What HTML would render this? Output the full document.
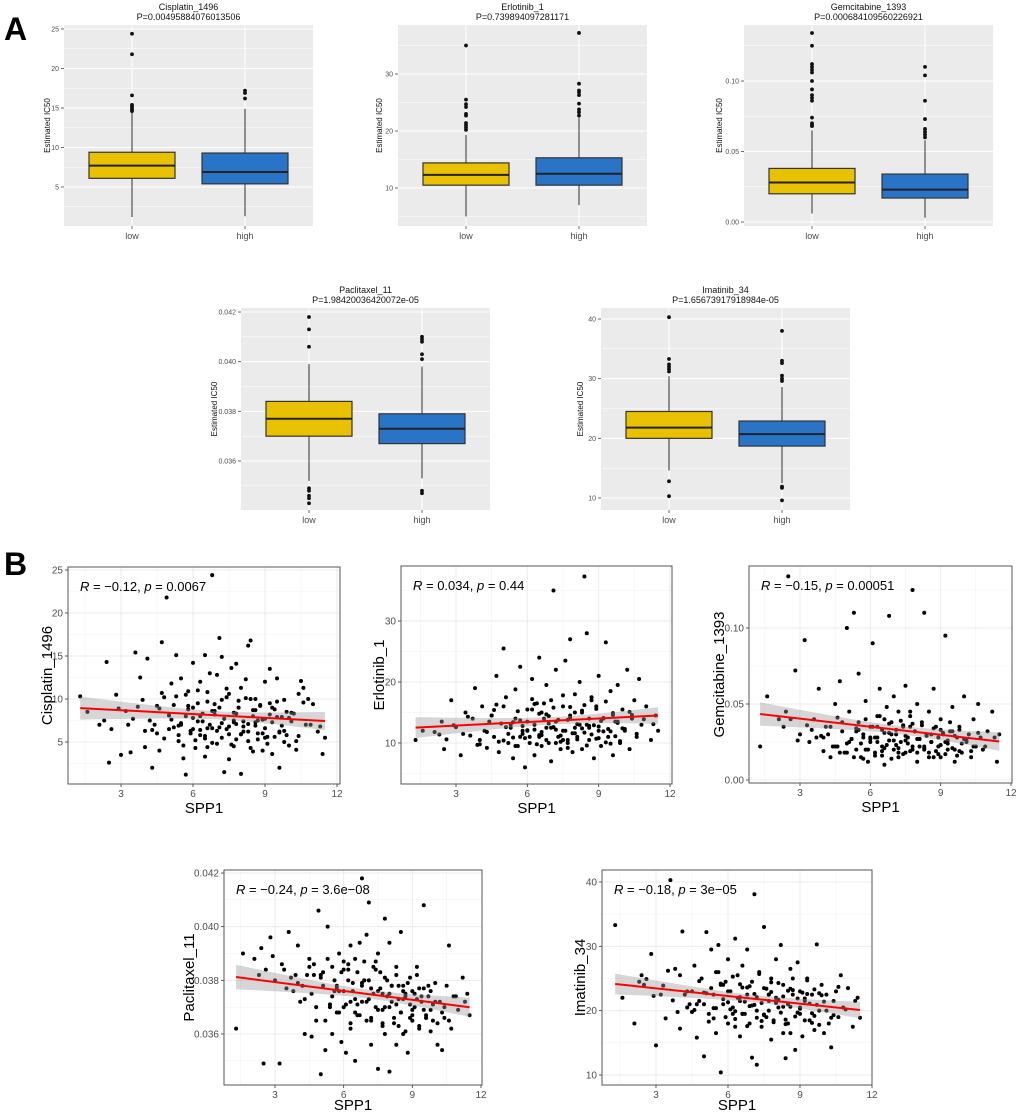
<!DOCTYPE html>
<html><head><meta charset="utf-8">
<style>
html,body{margin:0;padding:0;background:#fff;}
svg{display:block;font-family:"Liberation Sans",Arial,sans-serif;}
</style></head>
<body>
<svg id="fig" width="1020" height="1114" viewBox="0 0 1020 1114" xmlns="http://www.w3.org/2000/svg">
<text x="4" y="40" font-size="32" font-weight="bold">A</text>
<text x="4" y="575" font-size="32" font-weight="bold">B</text>
</svg>
<script>
// ---------- Box plot data: [q1, median, q3, whiskerLow, whiskerHigh] ----------
const groups = ["low","high"];
const cisLow = [6.1,7.7,9.4,1.2,14.5];
const cisHigh = [5.4,6.9,9.3,1.3,14.9];
const cisLowOut = [14.6,14.8,15.0,15.2,15.4,16.6,21.8,24.4];
const cisHighOut = [16.2,16.9,17.2];
const erlLow = [10.5,12.3,14.4,5.0,19.3];
const erlHigh = [10.5,12.5,15.3,7.0,22.3];
const erlLowOut = [20.2,20.6,21.0,21.4,22.7,23.0,24.2,24.7,25.5,35.0];
const erlHighOut = [22.7,23.3,23.8,24.8,26.3,26.8,27.1,28.3,37.2];
const gemLow = [0.020,0.028,0.038,0.006,0.065];
const gemHigh = [0.017,0.023,0.034,0.003,0.058];
const gemLowOut = [0.068,0.069,0.070,0.074,0.086,0.088,0.090,0.094,0.100,0.106,0.108,0.110,0.112,0.125,0.134];
const gemHighOut = [0.060,0.062,0.064,0.066,0.073,0.086,0.104,0.110];
const pacLow = [0.0370,0.0377,0.0384,0.0352,0.0399];
const pacHigh = [0.0367,0.0373,0.0379,0.0353,0.0398];
const pacLowOut = [0.0343,0.0345,0.0346,0.0348,0.0349,0.0406,0.0413,0.0418];
const pacHighOut = [0.0347,0.0348,0.0401,0.0403,0.0408,0.0409,0.0410];
const imaLow = [20.0,21.8,24.5,14.6,30.4];
const imaHigh = [18.7,20.7,22.9,12.5,28.6];
const imaLowOut = [10.3,12.8,31.2,31.6,32.0,32.4,33.3,40.3];
const imaHighOut = [9.6,11.7,11.9,29.6,30.0,30.5,32.6,33.0,38.0];

const cisTicks = [5,10,15,20,25];
const erlTicks = [10,20,30];
const gemTicks = [0.00,0.05,0.10];
const pacTicks = [0.036,0.038,0.040,0.042];
const imaTicks = [10,20,30,40];
const sppTicks = [3,6,9,12];

// ---------- Scatter data (shared SPP1 expression, drug IC50s) ----------
const spp1a = [1.3,1.6,2.1,2.4,2.5,2.8,3.0,3.2,3.4,3.6,
3.8,4.0,4.1,4.3,4.5,4.6,4.7,4.8,4.9,5.0,
5.1,5.2,5.3,5.4,5.5,5.5,5.6,5.7,5.8,5.9,
6.0,6.0,6.1,6.2,6.3,6.3,6.4,6.5,6.5,6.6,
6.7,6.8,6.8,6.9,7.0,7.0,7.1,7.2,7.2,7.3,
7.4,7.5,7.5,7.6,7.7,7.8,7.8,7.9,8.0,8.0,
8.1,8.2,8.3,8.3,8.4,8.5,8.5,8.6,8.7,8.8,
8.9,9.0,9.0,9.1,9.2,9.3,9.4,9.5,9.6,9.7,
9.8,9.9,10.0,10.1,10.2,10.3,10.4,10.5,10.6,10.7,
10.8,11.0,11.2,11.4,11.5,4.4,5.7,6.6,7.7,8.6];
const spp1b = [4.2,4.5,4.8,5.0,5.2,5.3,5.5,5.6,5.8,5.9,
6.0,6.1,6.2,6.3,6.4,6.5,6.6,6.7,6.8,6.9,
7.0,7.1,7.2,7.3,7.4,7.5,7.6,7.7,7.8,7.9,
8.0,8.1,8.2,8.3,8.4,8.5,8.6,8.7,8.8,8.9,
9.0,9.1,9.2,9.3,9.4,9.5,9.6,9.7,9.8,9.9,
3.3,3.7,4.0,4.6,5.1,5.4,5.7,6.0,6.3,6.6,
6.9,7.2,7.5,7.8,8.1,8.4,8.7,9.0,9.3,9.6,
10.0,10.3,10.6,10.9,2.6,2.9,3.5,3.9,4.3,4.7,
5.0,5.4,5.8,6.2,6.5,6.8,7.1,7.4,7.7,8.0,
8.3,8.6,8.9,9.2,9.5,9.8,10.1,10.4,2.3,11.3];
const cisYa = [10.3,8.5,7.0,14.3,2.6,10.5,3.5,8.6,3.8,15.4,
12.5,4.4,14.7,2.0,6.0,4.0,16.6,10.2,21.8,6.5,
11.8,9.3,15.1,5.1,12.4,7.0,3.1,1.2,10.9,6.3,
14.2,9.0,4.3,11.0,5.8,12.0,7.4,15.1,3.3,9.7,
13.0,24.4,6.6,8.2,12.8,4.8,17.1,9.9,14.9,1.5,
6.5,10.6,3.0,13.6,7.5,14.1,5.3,9.0,1.3,11.3,
6.2,12.3,16.2,5.1,16.8,8.7,3.9,10.0,6.0,9.2,
4.0,7.7,12.0,5.6,13.5,3.6,8.8,12.4,2.0,6.9,
9.9,5.8,4.6,7.4,8.3,4.1,10.6,12.1,11.3,7.0,
10.0,9.4,6.2,3.6,5.5,7.0,8.0,6.6,4.5,7.3];
const cisYb = [7.5,9.2,5.4,8.1,6.7,10.3,7.2,4.6,8.8,6.0,
7.8,5.2,9.5,6.4,8.3,5.7,10.8,7.0,4.9,8.6,
6.3,9.0,5.5,7.7,11.2,6.8,4.7,8.4,7.1,9.8,
5.9,7.4,10.1,6.2,4.3,8.0,6.9,5.3,9.3,7.6,
6.6,4.8,8.2,7.3,5.6,9.7,6.1,7.9,5.0,8.5,
7.0,9.1,6.3,8.9,7.6,5.8,10.5,6.5,8.0,4.4,
9.4,7.2,5.9,8.3,6.8,10.0,7.5,5.5,9.0,6.2,
7.8,5.1,9.6,7.0,6.5,8.9,7.7,9.9,6.4,10.7,
8.1,6.9,9.2,7.4,5.4,8.6,6.7,10.2,7.3,5.9,
7.1,8.7,6.0,9.5,7.9,6.3,8.4,5.7,7.5,6.8];
const erlYa = [10.5,12.0,11.8,13.5,9.0,17.0,12.6,8.0,15.0,11.2,
19.0,10.5,16.0,9.2,14.5,11.0,21.0,8.5,13.2,25.5,
17.5,10.0,12.5,7.5,18.8,14.0,9.5,22.5,11.5,6.0,
15.5,12.0,10.0,20.5,8.0,13.0,16.5,11.0,24.0,9.5,
14.0,12.5,19.5,10.0,17.0,7.0,35.0,13.5,22.0,11.0,
9.0,16.0,12.0,23.5,10.5,27.0,14.5,8.5,18.0,12.5,
11.0,20.0,15.0,9.0,37.3,13.0,28.0,10.5,17.5,7.5,
16.0,12.0,21.0,9.5,14.0,26.5,11.0,18.5,8.0,13.5,
19.5,10.0,15.5,12.0,22.0,9.0,14.0,17.0,11.5,20.5,
13.0,16.0,10.5,14.5,12.0,13.5,11.0,15.0,10.0,12.5];
const erlYb = [12.0,14.5,10.2,16.0,11.5,13.0,9.5,15.2,12.8,10.8,
13.5,11.0,17.2,12.2,9.8,14.8,11.8,16.5,10.5,13.2,
12.5,15.8,10.0,13.8,11.2,17.8,12.0,9.2,14.2,11.6,
15.0,10.6,13.0,12.4,16.2,9.6,14.0,11.4,12.9,15.6,
10.8,13.6,11.9,16.8,12.3,9.9,14.6,11.1,13.3,10.3,
11.5,14.0,9.8,15.4,12.6,10.9,13.7,12.1,16.4,11.3,
14.4,12.2,10.5,15.9,13.1,11.7,17.0,12.7,10.1,14.9,
12.4,15.1,11.0,13.9,10.6,12.9,14.3,9.7,11.8,16.3,
10.4,13.4,12.0,15.5,11.3,14.7,12.6,10.2,13.8,11.6,
15.3,12.8,10.7,14.1,11.9,13.5,12.3,14.6,11.4,13.1];
const gemYa = [.022,.055,.040,.045,.134,.072,.030,.092,.025,.040,
.060,.028,.035,.015,.050,.022,.065,.032,.018,.100,
.045,.027,.110,.020,.038,.070,.015,.030,.052,.012,
.035,.025,.090,.018,.042,.028,.060,.022,.033,.010,
.048,.108,.026,.038,.020,.055,.030,.015,.045,.025,
.035,.062,.018,.028,.042,.022,.125,.032,.012,.050,
.027,.038,.020,.110,.030,.045,.018,.025,.060,.035,
.022,.040,.015,.030,.095,.020,.032,.048,.012,.028,
.035,.018,.055,.025,.030,.015,.040,.022,.050,.028,
.020,.032,.045,.012,.030,.022,.028,.040,.035,.025];
const gemYb = [.030,.022,.038,.018,.027,.015,.033,.024,.040,.020,
.028,.035,.016,.025,.042,.019,.031,.023,.037,.014,
.026,.033,.021,.039,.017,.029,.024,.045,.020,.032,
.018,.027,.036,.022,.030,.015,.025,.034,.019,.028,
.023,.031,.017,.026,.038,.021,.029,.016,.033,.024,
.036,.028,.019,.041,.025,.032,.014,.027,.035,.021,
.030,.018,.026,.037,.022,.029,.015,.033,.024,.020,
.027,.019,.031,.022,.040,.026,.033,.029,.035,.018,
.024,.034,.020,.028,.016,.031,.023,.036,.019,.027,
.021,.030,.017,.025,.032,.019,.026,.022,.035,.028];
const pacYa = [.0362,.0390,.0388,.0392,.0349,.0396,.0380,.0349,.0384,.0398,
.0376,.0393,.0372,.0360,.0388,.0359,.0382,.0365,.0406,.0345,
.0378,.0354,.0400,.0371,.0360,.0385,.0376,.0368,.0390,.0357,
.0384,.0370,.0353,.0380,.0362,.0393,.0376,.0350,.0388,.0367,
.0394,.0418,.0372,.0380,.0397,.0365,.0409,.0377,.0356,.0385,
.0370,.0390,.0347,.0383,.0375,.0403,.0360,.0380,.0346,.0394,
.0372,.0366,.0385,.0356,.0378,.0368,.0398,.0360,.0375,.0353,
.0381,.0365,.0376,.0370,.0385,.0362,.0374,.0408,.0367,.0378,
.0361,.0371,.0379,.0356,.0372,.0354,.0366,.0378,.0393,.0362,
.0374,.0369,.0381,.0375,.0367,.0382,.0377,.0371,.0369,.0373];
const pacYb = [.0378,.0385,.0370,.0382,.0365,.0388,.0374,.0380,.0368,.0383,
.0376,.0371,.0386,.0364,.0379,.0373,.0383,.0367,.0378,.0387,
.0372,.0380,.0366,.0375,.0384,.0369,.0377,.0363,.0381,.0374,
.0370,.0378,.0364,.0382,.0373,.0368,.0376,.0361,.0379,.0371,
.0367,.0375,.0382,.0363,.0372,.0377,.0366,.0374,.0369,.0365,
.0386,.0381,.0379,.0375,.0383,.0370,.0378,.0387,.0372,.0367,
.0380,.0365,.0376,.0370,.0378,.0363,.0374,.0369,.0377,.0366,
.0372,.0368,.0365,.0374,.0384,.0389,.0377,.0382,.0373,.0386,
.0381,.0371,.0376,.0384,.0368,.0379,.0373,.0387,.0364,.0375,
.0371,.0378,.0366,.0373,.0369,.0376,.0364,.0370,.0382,.0372];
const imaYa = [33.3,22.0,18.0,25.5,24.0,28.8,14.6,22.5,18.8,40.3,
26.5,17.2,32.3,20.5,23.0,27.0,15.8,21.5,25.0,12.9,
32.2,19.5,29.5,22.5,26.0,16.5,30.2,10.4,21.0,24.5,
18.0,28.0,23.0,20.5,31.2,17.5,25.5,21.5,16.0,27.0,
19.5,22.5,29.5,18.0,24.5,12.7,38.1,20.0,11.6,26.0,
17.5,23.5,33.0,19.0,21.5,15.5,25.0,18.5,28.0,22.0,
20.5,30.2,16.5,24.0,12.6,21.0,18.0,26.5,22.5,13.9,
27.5,19.5,23.0,16.0,21.5,25.0,18.5,22.5,17.0,30.3,
20.0,24.0,16.5,22.5,18.0,14.3,21.5,23.0,19.0,25.5,
20.5,23.5,17.5,22.0,18.9,21.0,24.0,19.5,22.5,16.5];
const imaYb = [22.5,19.8,24.6,21.0,18.3,23.5,20.4,26.0,21.8,19.0,
23.0,20.2,25.3,18.7,22.0,24.1,19.5,21.4,17.6,23.8,
20.8,22.6,18.9,25.7,21.2,19.3,23.4,20.0,22.9,18.2,
21.5,24.3,19.7,22.2,17.9,23.1,20.6,25.0,19.1,21.9,
20.3,22.8,18.5,24.7,21.1,19.6,23.3,20.9,17.8,22.4,
23.9,21.6,25.5,20.1,22.7,18.8,24.2,21.3,19.9,23.6,
20.7,22.1,19.4,24.4,21.7,18.6,23.2,20.5,22.6,19.2,
21.4,18.9,23.7,20.2,24.9,22.3,26.2,19.8,23.0,21.0,
22.8,20.4,24.0,19.5,22.1,23.6,20.9,18.4,22.5,21.2,
20.6,23.4,19.7,21.9,18.1,22.7,20.0,19.3,24.5,21.5];
const spp1 = spp1a.concat(spp1b);

const NS = "http://www.w3.org/2000/svg";
const svg = document.getElementById("fig");
function mk(tag, attrs, parent){
  const e = document.createElementNS(NS, tag);
  for (const k in attrs) e.setAttribute(k, attrs[k]);
  (parent||svg).appendChild(e);
  return e;
}
function lin(v1,p1,v2,p2){ const s=(p2-p1)/(v2-v1); return v=>p1+(v-v1)*s; }
function fmt(v,d){ return d==null? String(v) : v.toFixed(d); }

// ---------- Box plots ----------
function boxChart(o){
  const g = mk("g",{});
  
  
  const y = lin(o.v1,o.p1,o.v2,o.p2);
  const W = 249, L = o.left, T = o.top, B = o.bottom;
  const x = i => L + 68 + i*113;
  mk("rect",{x:L,y:T,width:W,height:B-T,fill:"#ebebeb"},g);
  for (let i=0;i<o.ticks.length+1;i++){
    const step = o.ticks[1]-o.ticks[0];
    const mv = o.ticks[0] - step/2 + i*step;
    const py = y(mv);
    if (py>T && py<B) mk("line",{x1:L,x2:L+W,y1:py,y2:py,stroke:"#fff","stroke-width":0.5},g);
  }
  o.ticks.forEach(t=>{
    const py=y(t);
    mk("line",{x1:L,x2:L+W,y1:py,y2:py,stroke:"#fff","stroke-width":1},g);
    mk("line",{x1:L-3,x2:L,y1:py,y2:py,stroke:"#444","stroke-width":0.8},g);
    const tl = mk("text",{x:L-5,y:py+2.5,"font-size":7,fill:"#4d4d4d","text-anchor":"end"},g);
    
    
    tl.textContent = fmt(t,o.dec);
  });
  groups.forEach((gname,i)=>{
    mk("line",{x1:x(i),x2:x(i),y1:T,y2:B,stroke:"#fff","stroke-width":1},g);
    mk("line",{x1:x(i),x2:x(i),y1:B,y2:B+3,stroke:"#444","stroke-width":0.8},g);
    const xl = mk("text",{x:x(i),y:B+13,"font-size":9,fill:"#4d4d4d","text-anchor":"middle"},g);
    
    
    xl.textContent = gname;
  });
  [[o.low,o.lowOut,"#e8c100"],[o.high,o.highOut,"#2a74c8"]].forEach((d,i)=>{
    const s = d[0], cx = x(i);
    mk("line",{x1:cx,x2:cx,y1:y(s[3]),y2:y(s[0]),stroke:"#333","stroke-width":1},g);
    mk("line",{x1:cx,x2:cx,y1:y(s[2]),y2:y(s[4]),stroke:"#333","stroke-width":1},g);
    const r = mk("rect",{x:cx-43,y:y(s[2]),width:86,height:y(s[0])-y(s[2]),fill:d[2],stroke:"#333","stroke-width":1.2},g);
    
    
    mk("line",{x1:cx-43,x2:cx+43,y1:y(s[1]),y2:y(s[1]),stroke:"#222","stroke-width":2},g);
    d[1].forEach(v=>{
      const c = mk("circle",{cx:cx,cy:y(v),r:1.9,fill:"#111"},g);
      
      
    });
  });
  const cxm = L+W/2;
  const t1 = mk("text",{x:cxm,y:T-15,"font-size":9,"text-anchor":"middle",fill:"#111"},g);
  
  
  t1.textContent = o.title;
  const t2 = mk("text",{x:cxm,y:T-5,"font-size":9,"text-anchor":"middle",fill:"#111"},g);
  
  
  t2.textContent = o.p;
  const yt = mk("text",{x:0,y:0,"font-size":8,"text-anchor":"middle",fill:"#111",transform:`translate(${o.ytx},${(T+B)/2}) rotate(-90)`},g);
  
  
  yt.textContent = "Estimated IC50";
}
boxChart({name:"box-cisplatin",left:64,top:25,bottom:226,v1:5,p1:187,v2:25,p2:29,ticks:cisTicks,dec:null,low:cisLow,high:cisHigh,lowOut:cisLowOut,highOut:cisHighOut,title:"Cisplatin_1496",p:"P=0.00495884076013506",ytx:50});
boxChart({name:"box-erlotinib",left:398,top:25,bottom:226,v1:10,p1:188,v2:30,p2:74,ticks:erlTicks,dec:null,low:erlLow,high:erlHigh,lowOut:erlLowOut,highOut:erlHighOut,title:"Erlotinib_1",p:"P=0.739894097281171",ytx:382});
boxChart({name:"box-gemcitabine",left:744,top:25,bottom:226,v1:0,p1:222,v2:0.10,p2:81,ticks:gemTicks,dec:2,low:gemLow,high:gemHigh,lowOut:gemLowOut,highOut:gemHighOut,title:"Gemcitabine_1393",p:"P=0.000684109560226921",ytx:722});
boxChart({name:"box-paclitaxel",left:241,top:308,bottom:510,v1:0.036,p1:461,v2:0.042,p2:312,ticks:pacTicks,dec:3,low:pacLow,high:pacHigh,lowOut:pacLowOut,highOut:pacHighOut,title:"Paclitaxel_11",p:"P=1.98420036420072e-05",ytx:217});
boxChart({name:"box-imatinib",left:601,top:308,bottom:510,v1:10,p1:498,v2:40,p2:319,ticks:imaTicks,dec:null,low:imaLow,high:imaHigh,lowOut:imaLowOut,highOut:imaHighOut,title:"Imatinib_34",p:"P=1.65673917918984e-05",ytx:583});

// ---------- Scatter plots ----------
function scatter(o){
  const g = mk("g",{});
  
  
  const L=o.left,R=o.right,T=o.top,B=o.bottom;
  const x = lin(3,o.x3,12,o.x12);
  const y = lin(o.v1,o.p1,o.v2,o.p2);
  mk("rect",{x:L,y:T,width:R-L,height:B-T,fill:"#fff"},g);
  const ys=o.ticks, step=ys[1]-ys[0];
  for (let i=-1;i<=ys.length;i++){
    const mv=ys[0]+step*(i+0.5), py=y(mv);
    if(py>T&&py<B) mk("line",{x1:L,x2:R,y1:py,y2:py,stroke:"#f2f2f2","stroke-width":0.6},g);
  }
  for (let v=1.5; v<=12; v+=3){ const px=x(v); if(px>L&&px<R) mk("line",{x1:px,x2:px,y1:T,y2:B,stroke:"#f2f2f2","stroke-width":0.6},g); }
  ys.forEach(t=>{
    const py=y(t);
    mk("line",{x1:L,x2:R,y1:py,y2:py,stroke:"#ebebeb","stroke-width":1},g);
    mk("line",{x1:L-3,x2:L,y1:py,y2:py,stroke:"#333","stroke-width":0.8},g);
    const tl=mk("text",{x:L-5,y:py+3.5,"font-size":10,fill:"#4d4d4d","text-anchor":"end"},g);
    
    
    tl.textContent=fmt(t,o.dec);
  });
  sppTicks.forEach(t=>{
    const px=x(t);
    if(px<R-1) mk("line",{x1:px,x2:px,y1:T,y2:B,stroke:"#ebebeb","stroke-width":1},g);
    mk("line",{x1:px,x2:px,y1:B,y2:B+3,stroke:"#333","stroke-width":0.8},g);
    const tl=mk("text",{x:px,y:B+13,"font-size":10,fill:"#4d4d4d","text-anchor":"middle"},g);
    
    
    tl.textContent=t;
  });
  const ysd=o.data, n=Math.min(spp1.length,ysd.length);
  let mx=0,my=0; for(let i=0;i<n;i++){mx+=spp1[i];my+=ysd[i];} mx/=n; my/=n;
  let sxx=0,sxy=0; for(let i=0;i<n;i++){sxx+=(spp1[i]-mx)**2; sxy+=(spp1[i]-mx)*(ysd[i]-my);}
  const b=sxy/sxx, a=my-b*mx;
  let sse=0; for(let i=0;i<n;i++){sse+=(ysd[i]-a-b*spp1[i])**2;}
  const se=Math.sqrt(sse/(n-2));
  let xmin=Infinity,xmax=-Infinity; spp1.forEach(v=>{xmin=Math.min(xmin,v);xmax=Math.max(xmax,v);});
  const up=[],dn=[];
  for(let k=0;k<=20;k++){
    const xv=xmin+(xmax-xmin)*k/20, fv=a+b*xv;
    const h=1.97*se*Math.sqrt(1/n+(xv-mx)**2/sxx);
    up.push(x(xv).toFixed(1)+","+y(fv+h).toFixed(1));
    dn.unshift(x(xv).toFixed(1)+","+y(fv-h).toFixed(1));
  }
  for(let i=0;i<n;i++){
    const c=mk("circle",{cx:x(spp1[i]),cy:y(ysd[i]),r:2,fill:"#000"},g);
    
    
  }
  const band=mk("polygon",{points:up.concat(dn).join(" "),fill:"#999","fill-opacity":0.4},g);
  
  
  const fl=mk("line",{x1:x(xmin),y1:y(a+b*xmin),x2:x(xmax),y2:y(a+b*xmax),stroke:"#ff0000","stroke-width":2},g);
  
  
  const bd=mk("rect",{x:L,y:T,width:R-L,height:B-T,fill:"none",stroke:"#555","stroke-width":1},g);
  
  
  const an=mk("text",{x:L+12,y:T+24,"font-size":13,fill:"#000"},g);
  
  
  an.innerHTML=`<tspan font-style="italic">R</tspan> = ${o.r}, <tspan font-style="italic">p</tspan> = ${o.p}`;
  const xt=mk("text",{x:(L+R)/2,y:B+o.xto,"font-size":15,"text-anchor":"middle",fill:"#000"},g);
  
  
  xt.textContent="SPP1";
  const yt=mk("text",{x:0,y:0,"font-size":15,"text-anchor":"middle",fill:"#000",transform:`translate(${o.ytx},${(T+B)/2}) rotate(-90)`},g);
  
  
  yt.textContent=o.title;
}
scatter({name:"scatter-cisplatin",left:68,right:340,top:567,bottom:784,x3:121,x12:337,v1:5,p1:742,v2:25,p2:570,ticks:[5,10,15,20,25],dec:null,data:cisYa.concat(cisYb),r:"\u22120.12",p:"0.0067",title:"Cisplatin_1496",ytx:52,xto:29});
scatter({name:"scatter-erlotinib",left:401,right:672,top:566,bottom:784,x3:456,x12:670,v1:10,p1:743,v2:30,p2:621,ticks:[10,20,30],dec:null,data:erlYa.concat(erlYb),r:"0.034",p:"0.44",title:"Erlotinib_1",ytx:384,xto:29});
scatter({name:"scatter-gemcitabine",left:749,right:1012,top:566,bottom:783,x3:800,x12:1011,v1:0,p1:780,v2:0.10,p2:628,ticks:[0,0.05,0.10],dec:2,data:gemYa.concat(gemYb),r:"\u22120.15",p:"0.00051",title:"Gemcitabine_1393",ytx:724,xto:29});
scatter({name:"scatter-paclitaxel",left:224,right:482,top:870,bottom:1085,x3:275,x12:481,v1:0.036,p1:1034,v2:0.042,p2:873,ticks:[0.036,0.038,0.040,0.042],dec:3,data:pacYa.concat(pacYb),r:"\u22120.24",p:"3.6e\u221208",title:"Paclitaxel_11",ytx:194,xto:25});
scatter({name:"scatter-imatinib",left:602,right:872,top:870,bottom:1085,x3:656,x12:872,v1:10,p1:1075,v2:40,p2:882,ticks:[10,20,30,40],dec:null,data:imaYa.concat(imaYb),r:"\u22120.18",p:"3e\u221205",title:"Imatinib_34",ytx:585,xto:25});
</script>
</body></html>
